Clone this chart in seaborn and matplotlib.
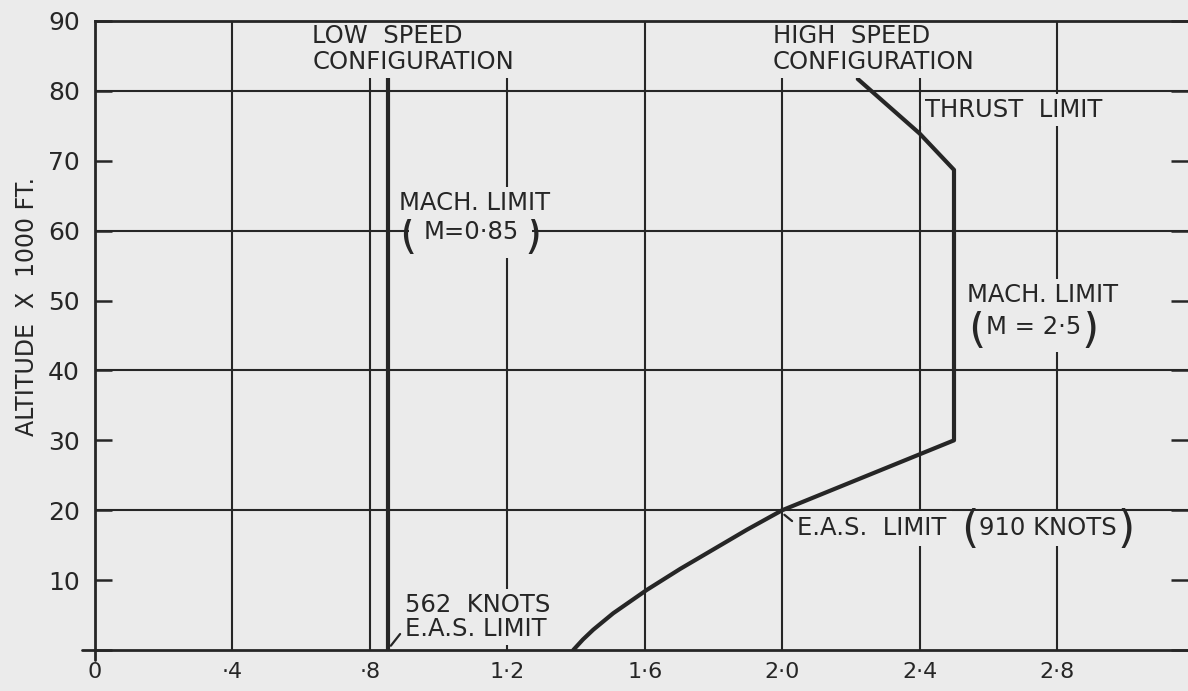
import matplotlib
matplotlib.use("Agg")
import matplotlib.pyplot as plt
import seaborn as sns
import numpy as np
import pandas as pd

# ---------------- data ----------------
mach_ticks = [0, 0.4, 0.8, 1.2, 1.6, 2.0, 2.4, 2.8]
mach_tick_labels = ["0", "·4", "·8", "1·2", "1·6", "2·0", "2·4", "2·8"]
alt_ticks = [0, 10, 20, 30, 40, 50, 60, 70, 80, 90]
alt_tick_labels = ["", "10", "20", "30", "40", "50", "60", "70", "80", "90"]
alt_grid = [20, 40, 60, 80]

low_mach = [0.853, 0.853]
low_alt = [0, 82]

high_mach = [1.392, 1.42, 1.45, 1.508, 1.606, 1.703, 1.80, 1.897, 2.0, 2.25, 2.5,
             2.5, 2.4, 2.22]
high_alt = [0, 1.5, 2.9, 5.25, 8.6, 11.6, 14.4, 17.2, 20, 25, 30,
            68.7, 73.9, 81.7]

# ---------------- style ----------------
BG = "#ebebeb"
INK = "#262626"
sns.set_style("white")
plt.rcParams["font.family"] = ["DejaVu Sans"]

fig = plt.figure(figsize=(11.88, 6.91), dpi=100, facecolor=BG)
W, H = 1188, 691
ax = fig.add_axes([95 / W, 41 / H, 1 - 95 / W, 629 / H], facecolor=BG)

df_low = pd.DataFrame({"mach": low_mach, "alt": low_alt})
df_high = pd.DataFrame({"mach": high_mach, "alt": high_alt})
sns.lineplot(data=df_low, x="mach", y="alt", sort=False, estimator=None,
             color=INK, lw=3.0, ax=ax, zorder=5)
sns.lineplot(data=df_high, x="mach", y="alt", sort=False, estimator=None,
             color=INK, lw=3.0, ax=ax, zorder=5)

ax.set_xlim(0, (1188 - 95) / 343.6)
ax.set_ylim(0, 90)

# grid
ax.set_xticks(mach_ticks)
ax.set_xticklabels(mach_tick_labels)
ax.xaxis.grid(True, color=INK, lw=1.5)
for a in alt_grid:
    ax.axhline(a, color=INK, lw=1.5, zorder=1)
ax.set_yticks(alt_ticks)
ax.set_yticklabels(alt_tick_labels)

for s in ["left", "top", "bottom"]:
    ax.spines[s].set_visible(True)
    ax.spines[s].set_color(INK)
    ax.spines[s].set_linewidth(2)
    ax.spines[s].set_zorder(10)
ax.spines["right"].set_visible(False)

ax.tick_params(axis="y", direction="in", length=12, width=1.8, color=INK,
               labelsize=18, labelcolor=INK, pad=11, left=True, right=True)
ax.tick_params(axis="x", length=0, labelsize=16, labelcolor=INK, pad=9)

# extension of bottom axis to the left and tick at 0
ax.plot([-13 / 1093, 0], [0, 0], transform=ax.transAxes, color=INK, lw=2, clip_on=False)
ax.plot([0, 0], [0, -10 / 629], transform=ax.transAxes, color=INK, lw=2, clip_on=False)

ax.set_xlabel("")
ax.set_ylabel("ALTITUDE  X  1000 FT.", fontsize=17, color=INK)
ax.yaxis.set_label_coords(-56 / 1093, (650 - 306) / 629)

FS = 17.5
mask = dict(facecolor=BG, edgecolor="none", pad=3)
tk = dict(color=INK, fontsize=FS)
pk = dict(color=INK, fontsize=32, zorder=7, ha="center", va="center")

ax.text(0.632, 86.0, "LOW  SPEED\nCONFIGURATION", ha="left", va="center",
        linespacing=1.1, bbox=mask, zorder=6, **tk)
ax.text(1.973, 86.0, "HIGH  SPEED\nCONFIGURATION", ha="left", va="center",
        linespacing=1.1, bbox=mask, zorder=6, **tk)
ax.text(2.416, 77.3, "THRUST  LIMIT", ha="left", va="center", bbox=mask, zorder=6, **tk)

# low-speed Mach limit
ax.text(1.094, 59.8, "M=0·85", ha="center", va="center",
        bbox=dict(facecolor=BG, edgecolor="none", pad=10), zorder=6, **tk)
ax.text(0.885, 64.0, "MACH. LIMIT", ha="left", va="center", bbox=mask, zorder=8, **tk)
ax.text(0.911, 59.3, "(", **pk)
ax.text(1.275, 59.3, ")", **pk)

# high-speed Mach limit
ax.text(2.733, 46.2, "M = 2·5", ha="center", va="center",
        bbox=dict(facecolor=BG, edgecolor="none", pad=9), zorder=6, **tk)
ax.text(2.538, 50.8, "MACH. LIMIT", ha="left", va="center", bbox=mask, zorder=8, **tk)
ax.text(2.565, 45.8, "(", **pk)
ax.text(2.896, 45.8, ")", **pk)

# 562 knots
ax.text(0.902, 4.7, "562  KNOTS\nE.A.S. LIMIT", ha="left", va="center",
        linespacing=1.0, bbox=mask, zorder=6, **tk)
ax.annotate("", xy=(0.856, 0.3), xytext=(0.893, 2.6),
            arrowprops=dict(arrowstyle="-", color=INK, lw=1.6), zorder=6)

# 910 knots
ax.text(2.043, 17.4, "E.A.S.  LIMIT", ha="left", va="center",
        bbox=dict(facecolor=BG, edgecolor="none", pad=4), zorder=6, **tk)
ax.text(2.772, 17.4, "910 KNOTS", ha="center", va="center",
        bbox=dict(facecolor=BG, edgecolor="none", pad=4), zorder=6, **tk)
ax.text(2.546, 17.2, "(", **pk)
ax.text(3.0, 17.2, ")", **pk)
ax.annotate("", xy=(2.0, 19.6), xytext=(2.035, 18.2),
            arrowprops=dict(arrowstyle="-", color=INK, lw=1.6), zorder=6)

fig.savefig("out.png", dpi=100, facecolor=BG)
